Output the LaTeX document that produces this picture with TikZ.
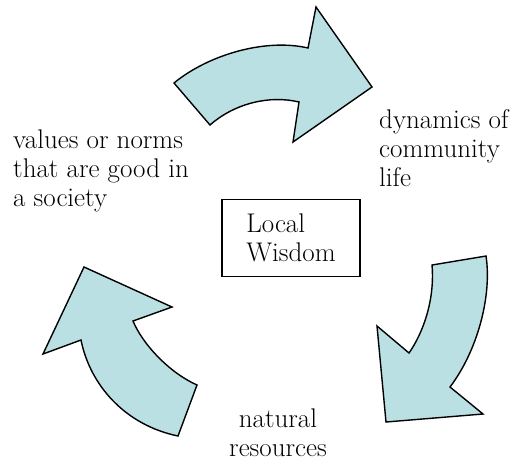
\documentclass[tikz,border=0pt]{standalone}
\definecolor{arrowfill}{RGB}{187,224,227}
\tikzset{
  cyclearrow/.style={draw=black, fill=arrowfill, line width=1.4pt, line join=miter},
  label/.style={inner sep=0pt, align=left, font=\fontsize{27}{29}\selectfont},
  wisdombox/.style={draw=black, line width=1.1pt, minimum width=138pt, minimum height=77pt,
    align=left, inner sep=0pt, font=\fontsize{27}{29}\selectfont}
}
\begin{document}
\begin{tikzpicture}[x=1pt, y=-1pt]
\useasboundingbox (0,0) rectangle (510,461);

% curved arrow at the top, pointing right
\path[cyclearrow] (174,83) .. controls (208,55) and (265,38) .. (308,48)
  -- (316,7) -- (372,87) -- (293,142) -- (299,102)
  .. controls (270,95) and (235,103) .. (210,125) -- cycle;

% curved arrow on the right, pointing down-left
\path[cyclearrow] (432,265) -- (486,256)
  .. controls (492,295) and (478,350) .. (450,387)
  -- (483,414) -- (386,422) -- (377,326) -- (409,353)
  .. controls (423,333) and (435,300) .. (432,265) -- cycle;

% curved arrow on the left, pointing up
\path[cyclearrow] (178,436) -- (197,385)
  .. controls (170,373) and (143,345) .. (133,321)
  -- (172,307) -- (84,267) -- (43,354) -- (81,340)
  .. controls (90,385) and (125,425) .. (178,436) -- cycle;

% central box
\node[wisdombox] (wisdom) at (291,238) {Local\\Wisdom};

% labels around the cycle
\node[label, anchor=north west] (values) at (13,130) {values or norms\\that are good in\\a society};
\node[label, anchor=north west] (dynamics) at (379,109) {dynamics of\\community\\life};
\node[label, align=center, anchor=north] (resources) at (278,409) {natural\\resources};
\end{tikzpicture}
\end{document}
